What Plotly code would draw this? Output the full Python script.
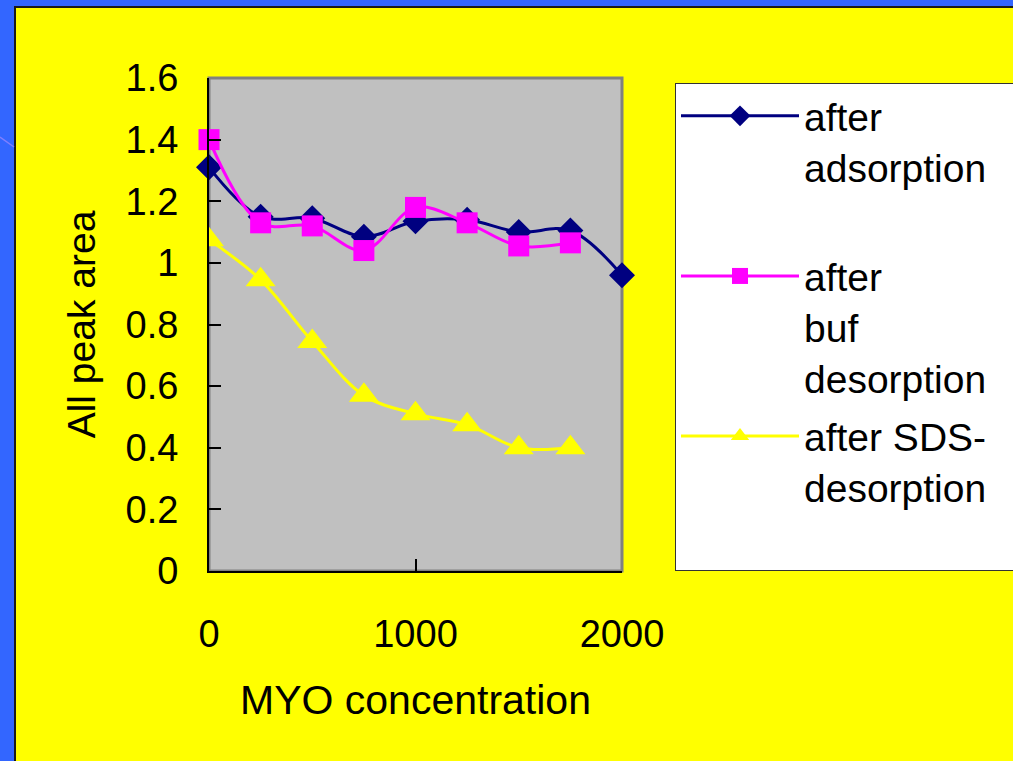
import plotly.graph_objects as go

# MYO concentration (x) and total peak area for each treatment
conc = [0, 250, 500, 750, 1000, 1250, 1500, 1750, 2000]
after_adsorption = [1.31, 1.15, 1.145, 1.085, 1.135, 1.14, 1.10, 1.105, 0.96]
after_buf_desorption = [1.40, 1.13, 1.12, 1.04, 1.18, 1.13, 1.055, 1.065]
after_sds_desorption = [1.075, 0.945, 0.745, 0.57, 0.51, 0.475, 0.40, 0.40]

# trailing blank lines keep the three legend entries the same height
pad = "\u00a0" * 20
series_names = [
    "after<br>adsorption<br>" + pad,
    "after<br>buf<br>desorption",
    "after SDS-<br>desorption<br>\u00a0",
]
y_ticks = [0, 0.2, 0.4, 0.6, 0.8, 1, 1.2, 1.4, 1.6]
x_ticks = [0, 1000, 2000]

FONT = "Liberation Sans, Arial, sans-serif"
W, H = 1013, 761
L, R, T, B = 209, 391, 78, 190
PW, PH = W - L - R, H - T - B


def px_x(p):
    return (p - L) / PW


def px_y(p):
    return (H - B - p) / PH


fig = go.Figure()

styles = [
    dict(color="#000080", symbol="diamond", size=20),
    dict(color="#FF00FF", symbol="square", size=21),
    dict(color="#FFFF00", symbol="triangle-up", size=26),
]
data = [after_adsorption, after_buf_desorption, after_sds_desorption]

for i, (name, ys, st) in enumerate(zip(series_names, data, styles)):
    fig.add_trace(go.Scatter(
        x=conc[:len(ys)], y=ys, name=name, mode="lines+markers",
        line=dict(color=st["color"], width=3, shape="spline", smoothing=1),
        marker=dict(color=st["color"], symbol=st["symbol"], size=st["size"],
                    line=dict(width=0)),
        cliponaxis=False, legendgroup=f"g{i}",
    ))

shapes = [
    # yellow slide panel with dark edge
    dict(type="rect", xref="paper", yref="paper",
         x0=px_x(15), x1=px_x(1030), y0=px_y(7), y1=px_y(780),
         fillcolor="#FFFF00", line=dict(color="#1a1a1a", width=2), layer="below"),
    # faint swoosh on the blue border
    dict(type="line", xref="paper", yref="paper",
         x0=px_x(0), y0=px_y(137), x1=px_x(14), y1=px_y(147),
         line=dict(color="#7f7fff", width=1.5), layer="below"),
    # gray plot area with gray frame (left/bottom covered by black axis lines)
    dict(type="rect", xref="x domain", yref="y domain", x0=0, x1=1, y0=0, y1=1,
         fillcolor="#C0C0C0", line=dict(color="#808080", width=3), layer="below"),
]

fig.update_layout(
    width=W, height=H,
    margin=dict(l=L, r=R, t=T, b=B, autoexpand=False),
    paper_bgcolor="#3366FF",
    plot_bgcolor="#C0C0C0",
    font=dict(family=FONT, color="black"),
    shapes=shapes,
    showlegend=True,
    legend=dict(
        x=px_x(675), y=px_y(83), xanchor="left", yanchor="top",
        bgcolor="white", bordercolor="#333333", borderwidth=1,
        font=dict(size=39, family=FONT, color="black"),
        itemwidth=118, valign="top", traceorder="grouped", tracegroupgap=5,
    ),
)

fig.update_xaxes(
    range=[0, 2000], tickvals=x_ticks, ticks="inside", ticklen=12, tickwidth=1.5,
    tickcolor="black", showline=True, linecolor="black", linewidth=2,
    showgrid=False, zeroline=False, tickfont=dict(size=38, family=FONT),
    ticklabelstandoff=28,
    title=dict(text="MYO concentration", font=dict(size=41, family=FONT), standoff=32),
)
fig.update_yaxes(
    range=[0, 1.6], tickvals=y_ticks, ticks="inside", ticklen=12, tickwidth=1.5,
    tickcolor="black", showline=True, linecolor="black", linewidth=2,
    showgrid=False, zeroline=False, tickfont=dict(size=38, family=FONT),
    ticklabelstandoff=21,
    title=dict(text="All peak area", font=dict(size=39, family=FONT), standoff=18),
)

fig.write_html("out.html")
